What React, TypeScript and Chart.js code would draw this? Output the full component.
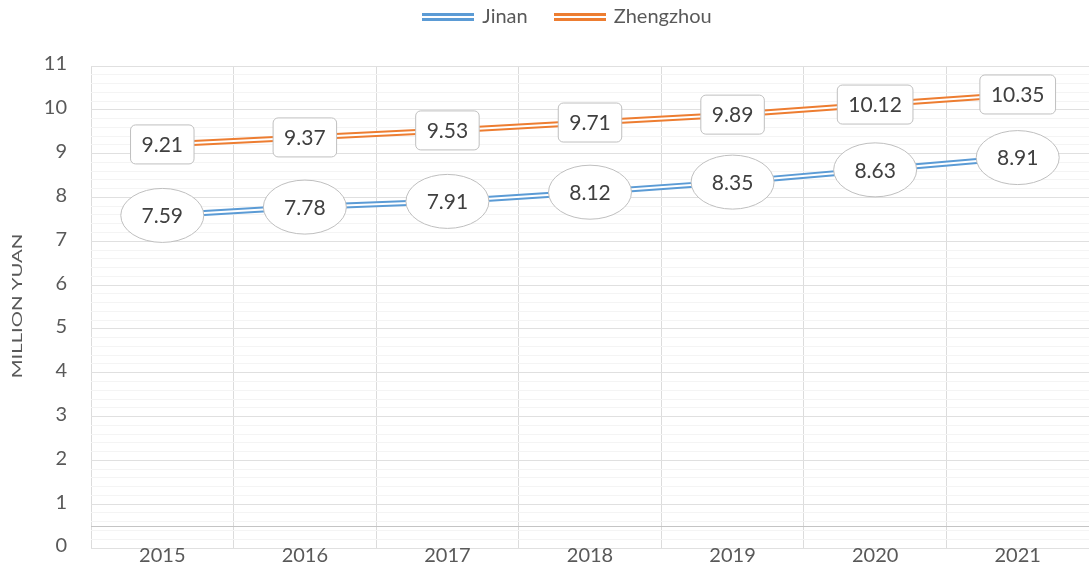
import React, { useEffect, useRef } from 'react';
import { Chart, registerables } from 'chart.js';

Chart.register(...registerables);

const categories = ['2015', '2016', '2017', '2018', '2019', '2020', '2021'];
const jinanValues = [7.59, 7.78, 7.91, 8.12, 8.35, 8.63, 8.91];
const zhengzhouValues = [9.21, 9.37, 9.53, 9.71, 9.89, 10.12, 10.35];
const seriesNames = ['Jinan', 'Zhengzhou'];
const seriesColors = ['#5B9BD5', '#ED7D31'];
const labelShapes = ['ellipse', 'roundRect'];
const yAxisTitle = 'MILLION YUAN';
const yMin = 0;
const yMax = 11;
const yMinorStep = 0.2;
const axisCrossValue = 0.5;

const FONT = 'Lato';

function isInt(v: number) {
  return Math.abs(v - Math.round(v)) < 1e-6;
}

function makeLegendLine(color: string) {
  const c = document.createElement('canvas');
  c.width = 52;
  c.height = 8;
  const g = c.getContext('2d')!;
  g.fillStyle = color;
  g.fillRect(0, 0, 52, 8);
  g.fillStyle = '#ffffff';
  g.fillRect(0, 3, 52, 2);
  return c;
}

const doubleLinePlugin = {
  id: 'doubleLine',
  afterDatasetDraw(chart: any, args: any) {
    const pts = args.meta.data;
    const ctx = chart.ctx;
    ctx.save();
    ctx.beginPath();
    pts.forEach((p: any, i: number) => (i ? ctx.lineTo(p.x, p.y) : ctx.moveTo(p.x, p.y)));
    ctx.strokeStyle = '#ffffff';
    ctx.lineWidth = 2;
    ctx.lineJoin = 'round';
    ctx.stroke();
    ctx.restore();
  },
};

const axisLinePlugin = {
  id: 'axisLine',
  beforeDatasetsDraw(chart: any) {
    const { ctx, chartArea, scales } = chart;
    const y = Math.round(scales.y.getPixelForValue(axisCrossValue)) + 0.5;
    ctx.save();
    ctx.strokeStyle = '#C4C4C4';
    ctx.lineWidth = 1;
    ctx.beginPath();
    ctx.moveTo(chartArea.left, y);
    ctx.lineTo(chartArea.right, y);
    ctx.stroke();
    ctx.restore();
  },
};

const dataLabelPlugin = {
  id: 'dataLabels',
  afterDatasetsDraw(chart: any) {
    const ctx = chart.ctx;
    chart.data.datasets.forEach((ds: any, i: number) => {
      const meta = chart.getDatasetMeta(i);
      const shape = labelShapes[i];
      meta.data.forEach((pt: any, j: number) => {
        const text = Number(ds.data[j]).toFixed(2);
        const x = pt.x;
        const y = pt.y;
        ctx.save();
        ctx.font = `21px ${FONT}`;
        const tw = ctx.measureText(text).width;
        ctx.beginPath();
        if (shape === 'ellipse') {
          ctx.ellipse(x, y, 41.5, 27, 0, 0, Math.PI * 2);
        } else {
          const w = tw + 22;
          const h = 39;
          ctx.roundRect(x - w / 2, y - h / 2, w, h, 5);
        }
        ctx.fillStyle = '#ffffff';
        ctx.fill();
        ctx.strokeStyle = '#BFBFBF';
        ctx.lineWidth = 1;
        ctx.stroke();
        ctx.fillStyle = '#404040';
        ctx.textAlign = 'center';
        ctx.textBaseline = 'middle';
        ctx.fillText(text, x, y + 1);
        ctx.restore();
      });
    });
  },
};

const yTitlePlugin = {
  id: 'yTitle',
  afterDraw(chart: any) {
    const { ctx, chartArea } = chart;
    const cy = (chartArea.top + chartArea.bottom) / 2 - 1;
    ctx.save();
    ctx.translate(17, cy);
    ctx.rotate(-Math.PI / 2);
    ctx.scale(1.45, 1);
    ctx.font = `14px ${FONT}`;
    ctx.fillStyle = '#595959';
    ctx.textAlign = 'center';
    ctx.textBaseline = 'middle';
    ctx.fillText(yAxisTitle, 0, 0);
    ctx.restore();
  },
};

const legendShiftPlugin = {
  id: 'legendShift',
  afterLayout(chart: any) {
    const lg = chart.legend;
    if (!lg) return;
    const dx = 22;
    const dy = -29;
    lg.left += dx;
    lg.right += dx;
    lg.top += dy;
    lg.bottom += dy;
  },
};

export default function App() {
  const canvasRef = useRef<HTMLCanvasElement | null>(null);

  useEffect(() => {
    if (!canvasRef.current) return;
    const legendImages = seriesColors.map(makeLegendLine);
    const chart = new Chart(canvasRef.current, {
      type: 'line',
      data: {
        labels: categories,
        datasets: [
          {
            label: seriesNames[0],
            data: jinanValues,
            borderColor: seriesColors[0],
            backgroundColor: seriesColors[0],
            borderWidth: 6,
            pointRadius: 0,
            tension: 0,
            fill: false,
          },
          {
            label: seriesNames[1],
            data: zhengzhouValues,
            borderColor: seriesColors[1],
            backgroundColor: seriesColors[1],
            borderWidth: 6,
            pointRadius: 0,
            tension: 0,
            fill: false,
          },
        ],
      },
      options: {
        animation: false,
        responsive: false,
        events: [],
        layout: { padding: { top: 8, left: 0, right: -3, bottom: 7 } },
        font: { family: FONT },
        plugins: {
          legend: {
            position: 'top',
            labels: {
              usePointStyle: true,
              pointStyleWidth: 48,
              padding: 28,
              color: '#595959',
              font: { family: FONT, size: 20 },
              generateLabels: (c: any) => {
                const items = (Chart.defaults.plugins.legend.labels as any).generateLabels(c);
                items.forEach((it: any, i: number) => {
                  it.pointStyle = legendImages[i];
                });
                return items;
              },
            },
          },
          tooltip: { enabled: false },
        },
        scales: {
          x: {
            type: 'category',
            offset: true,
            grid: { offset: true, color: '#DCDCDC', drawTicks: false, lineWidth: 1 },
            border: { display: false },
            ticks: {
              color: '#595959',
              font: { family: FONT, size: 20 },
              padding: -4,
              maxRotation: 0,
              autoSkip: false,
            },
          },
          y: {
            type: 'linear',
            min: yMin,
            max: yMax,
            grid: {
              drawTicks: true,
              tickLength: 24,
              tickColor: 'rgba(0,0,0,0)',
              color: (ctx: any) =>
                ctx.tick && isInt(ctx.tick.value) ? '#E0E0E0' : '#F4F4F4',
            },
            border: { display: false },
            ticks: {
              stepSize: yMinorStep,
              autoSkip: false,
              color: '#595959',
              font: { family: FONT, size: 20 },
              padding: 0,
              labelOffset: -2,
              callback: (v: any) => (isInt(Number(v)) ? String(Math.round(Number(v))) : ''),
            },
            afterFit: (s: any) => {
              s.width = 91;
            },
          },
        },
      } as any,
      plugins: [axisLinePlugin, doubleLinePlugin, dataLabelPlugin, yTitlePlugin, legendShiftPlugin],
    });
    return () => chart.destroy();
  }, []);

  return (
    <div style={{ position: 'fixed', left: 0, top: 0, width: 1089, height: 571, background: '#ffffff' }}>
      <canvas ref={canvasRef} width={1089} height={571} style={{ display: 'block' }} />
    </div>
  );
}
